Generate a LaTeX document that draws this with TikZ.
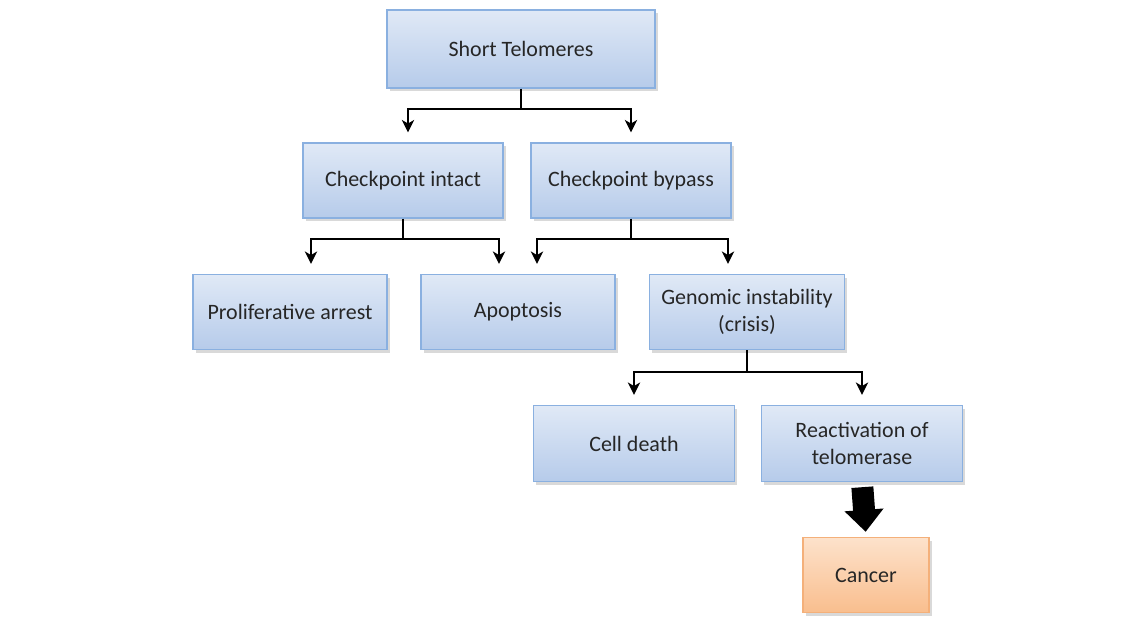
\documentclass[tikz,border=0pt]{standalone}
\usepackage{fontspec}
\setmainfont{Carlito}
\usepackage{tikz}
\usetikzlibrary{arrows.meta, shadows}
\definecolor{boxtop}{HTML}{E0E9F6}
\definecolor{boxbot}{HTML}{B6CBEA}
\definecolor{boxline}{HTML}{8AB0E0}
\definecolor{cantop}{HTML}{FDE2CB}
\definecolor{canbot}{HTML}{F9BE8E}
\definecolor{canline}{HTML}{F4B07A}
\tikzstyle{box}      = [rectangle, minimum width=4cm, minimum height=1.5cm, text centered, align=center, text=black!85, draw=boxline, line width=0.8pt, top color=boxtop, bottom color=boxbot, drop shadow={opacity=0.3, shadow xshift=0.05cm, shadow yshift=-0.06cm}, font=\fontsize{12.5}{15}\selectfont]
\tikzstyle{endbox}   = [box, draw=canline, top color=cantop, bottom color=canbot]
\tikzstyle{line}     = [line width=1.2pt]
\tikzstyle{arrow}    = [line width=1.2pt, -{Stealth[length=7pt, width=7pt, inset=2pt]}, shorten >=0.2cm]
\tikzstyle{bigarrow} = [line width=12.5pt, -{Triangle[length=12.5pt, width=21.5pt]}, shorten <=0.1cm, shorten >=0.1cm]

\begin{document}
\begin{tikzpicture}[node distance=2.63cm]
      \useasboundingbox (0,0) rectangle (22.86,-12.32);

      \node (0A)  [box, minimum width=5.36cm, minimum height=1.56cm] at (10.42,-0.98) {Short Telomeres};

      \node (1A)  [box, below of=0A, xshift=-2.36cm] {Checkpoint intact};
      \node (1B)  [box, below of=0A, xshift=2.2cm]   {Checkpoint bypass};

      \node (2A)  [box, minimum width=3.88cm, below of=1A, xshift=-2.26cm] {Proliferative arrest};
      \node (2B)  [box, minimum width=3.88cm, below of=1A, xshift=2.3cm]   {Apoptosis};
      \node (2C)  [box, minimum width=3.9cm, below of=1B, xshift=2.32cm]   {Genomic instability\\(crisis)};

      \node (3A)  [box, minimum width=4.02cm, minimum height=1.52cm, below of=2C, xshift=-2.26cm] {Cell death};
      \node (3B)  [box, minimum width=4.02cm, minimum height=1.52cm, below of=2C, xshift=2.3cm]  {Reactivation of\\telomerase};

      \node (4A)  [endbox, minimum width=2.52cm, below of=3B, xshift=0.08cm] {Cancer};

      \draw [line] (0A.south) -- ++(0,-0.4) coordinate (0J);
      \draw [arrow] (0J) -| ([xshift=0.1cm]1A.north);
      \draw [arrow] (0J) -| (1B.north);

      \draw [line] (1A.south) -- ++(0,-0.4) coordinate (1J);
      \draw [arrow] (1J) -| ([xshift=0.42cm]2A.north);
      \draw [arrow] (1J) -| ([xshift=-0.38cm]2B.north);

      \draw [line] (1B.south) -- ++(0,-0.4) coordinate (2J);
      \draw [arrow] (2J) -| ([xshift=0.38cm]2B.north);
      \draw [arrow] (2J) -| ([xshift=-0.38cm]2C.north);

      \draw [line] (2C.south) -- ++(0,-0.44) coordinate (3J);
      \draw [arrow] (3J) -| (3A.north);
      \draw [arrow] (3J) -| (3B.north);

      \draw [bigarrow] (3B.south) -- (4A.north);

    \end{tikzpicture}
\end{document}
